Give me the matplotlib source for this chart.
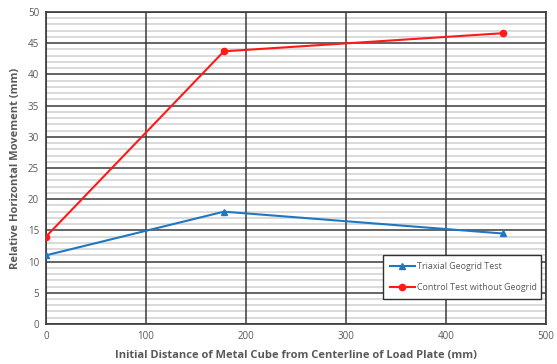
import matplotlib.pyplot as plt
from matplotlib.ticker import MultipleLocator

# Relative horizontal movement of the metal cubes
distance = [0, 178, 457]
triaxial = [11.0, 18.0, 14.5]
control = [14.0, 43.7, 46.6]

plt.rcParams["font.family"] = ["Open Sans", "DejaVu Sans"]
text_color = "#595959"

fig = plt.figure(figsize=(5.57, 3.64), dpi=100)
ax = fig.add_axes([0.0826, 0.110, 0.897, 0.857])

ax.plot(distance, triaxial, color="#1f77c4", lw=1.5, marker="^", ms=5,
        label="Triaxial Geogrid Test", zorder=3)
ax.plot(distance, control, color="#ff1a1a", lw=1.5, marker="o", ms=4.5,
        label="Control Test without Geogrid", zorder=3)

ax.set_xlim(0, 500)
ax.set_ylim(0, 50)
ax.xaxis.set_major_locator(MultipleLocator(100))
ax.yaxis.set_major_locator(MultipleLocator(5))

# light minor lines every 1 mm, kept underneath the major grid
minor_y = [v for v in range(1, 50) if v % 5]
ax.hlines(minor_y, 0, 500, color="#d9d9d9", lw=1.4, zorder=0.1)
ax.grid(which="major", color="#3a3a3a", lw=1.1)
ax.set_axisbelow(True)
ax.tick_params(which="both", length=0, labelsize=7, colors=text_color, pad=5)

for s in ax.spines.values():
    s.set_color("#3a3a3a")
    s.set_linewidth(1.2)

ax.set_xlabel("Initial Distance of Metal Cube from Centerline of Load Plate (mm)",
              fontsize=8, fontweight="bold", color=text_color, labelpad=6)
ax.set_ylabel("Relative Horizontal Movement (mm)",
              fontsize=8, fontweight="bold", color=text_color, labelpad=5)

leg = ax.legend(loc="lower left", bbox_to_anchor=(0.674, 0.08, 0.316, 0.147),
                mode="expand", fontsize=6.4, frameon=True, fancybox=False,
                edgecolor="#303030", framealpha=1, handlelength=2.8,
                handletextpad=0.2, labelspacing=1.3, borderpad=0.8,
                borderaxespad=0)
leg.get_frame().set_linewidth(1.0)
for t in leg.get_texts():
    t.set_color(text_color)

fig.savefig("out.png", dpi=100)
